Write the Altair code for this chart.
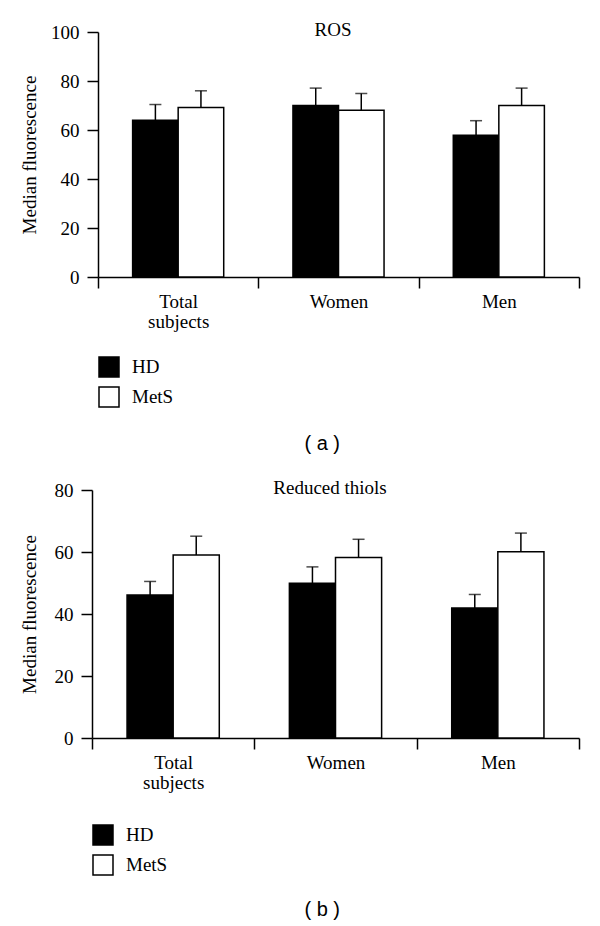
import altair as alt
import pandas as pd

categories = ["Total subjects", "Women", "Men"]
groups = ["HD", "MetS"]

# Panel (a) ROS
ros_hd = [64.0, 70.0, 57.9]
ros_hd_sem = [6.4, 7.1, 5.9]
ros_mets = [69.2, 68.1, 70.0]
ros_mets_sem = [6.8, 6.8, 7.1]
ros_ticks = [0, 20, 40, 60, 80, 100]

# Panel (b) Reduced thiols
thiol_hd = [46.1, 49.9, 41.9]
thiol_hd_sem = [4.4, 5.3, 4.4]
thiol_mets = [59.0, 58.2, 60.1]
thiol_mets_sem = [6.1, 5.9, 6.0]
thiol_ticks = [0, 20, 40, 60, 80]

SERIF = "Liberation Serif"
SANS = "Liberation Sans"


def table(hd, hd_sem, mets, mets_sem):
    rows = []
    for i, c in enumerate(categories):
        rows.append({"cat": c, "group": "HD", "value": hd[i], "sem": hd_sem[i]})
        rows.append({"cat": c, "group": "MetS", "value": mets[i], "sem": mets_sem[i]})
    return pd.DataFrame(rows)


def panel(df, title, caption, ticks, ymax, width, height, inset, title_x,
          caption_x, caption_y, legend_y, title_pad):
    x = alt.X(
        "cat:N", sort=categories,
        scale=alt.Scale(paddingInner=0, paddingOuter=0, range=[inset, width]),
        axis=alt.Axis(
            title=caption, titleFont=SANS, titleFontSize=20, titleFontWeight="normal",
            titleColor="black", titleX=caption_x, titleY=caption_y,
            titleBaseline="alphabetic", titleAlign="center", titleAngle=0,
            labelAngle=0, labelFont=SERIF, labelFontSize=19, labelColor="black",
            labelExpr="datum.label == 'Total subjects' ? ['Total', 'subjects'] : datum.label",
            labelLineHeight=20, labelBaseline="top", labelPadding=4,
            tickBand="extent", tickSize=11, tickWidth=1.5, tickColor="black",
            domainColor="black", domainWidth=1.5, grid=False,
        ),
    )
    xo = alt.XOffset("group:N", sort=groups,
                     scale=alt.Scale(paddingInner=0, paddingOuter=0.76))
    y = alt.Y(
        "value:Q", scale=alt.Scale(domain=[0, ymax], nice=False),
        axis=alt.Axis(
            values=ticks, title="Median fluorescence", titleFont=SERIF,
            titleFontSize=19, titleFontWeight="normal", titleColor="black",
            titlePadding=title_pad, offset=-inset,
            labelFont=SERIF, labelFontSize=19, labelColor="black", labelPadding=8,
            tickSize=11, tickWidth=1.5, tickColor="black",
            domainColor="black", domainWidth=1.5, grid=False,
        ),
    )
    bars = alt.Chart(df).mark_bar(stroke="black", strokeWidth=1.5).encode(
        x=x, xOffset=xo, y=y,
        fill=alt.Fill(
            "group:N", sort=groups,
            scale=alt.Scale(domain=groups, range=["black", "white"]),
            legend=alt.Legend(
                title=None, orient="none", legendX=inset, legendY=legend_y,
                direction="vertical", padding=0,
                symbolType="square", symbolSize=400,
                symbolStrokeColor="black", symbolStrokeWidth=1.5,
                labelFont=SERIF, labelFontSize=19, labelColor="black",
                labelOffset=12, rowPadding=4,
            ),
        ),
    )
    base = alt.Chart(df).transform_calculate(upper="datum.value + datum.sem")
    rule = base.mark_rule(color="black", strokeWidth=1.5).encode(
        x=x, xOffset=xo, y="value:Q", y2="upper:Q"
    )
    cap = base.mark_tick(color="black", thickness=1.5, size=12).encode(
        x=x, xOffset=xo, y="upper:Q"
    )
    ttl = alt.Chart(pd.DataFrame({"t": [title]})).mark_text(
        font=SERIF, fontSize=19, baseline="alphabetic", align="center", color="black"
    ).encode(text="t:N", x=alt.value(title_x), y=alt.value(4))
    return alt.layer(bars, rule, cap, ttl).properties(width=width, height=height)


pa = panel(table(ros_hd, ros_hd_sem, ros_mets, ros_mets_sem), "ROS", "( a )",
           ros_ticks, 100, 487, 245, 6, 241, 229.7, 172.7, 324, 11)
pb = panel(table(thiol_hd, thiol_hd_sem, thiol_mets, thiol_mets_sem), "Reduced thiols", "( b )",
           thiol_ticks, 80, 487, 248, 0, 238, 229.7, 177.3, 334, 15)

chart = (
    alt.concat(pa, pb, columns=1, spacing=25)
    .resolve_scale(x="independent", y="independent", xOffset="independent", fill="independent")
    .resolve_legend(fill="independent")
    .properties(padding={"left": 12, "top": 13, "right": 5, "bottom": 0}, background="white")
    .configure_view(stroke=None)
)

chart.save("out.html", embed_options={"renderer": "svg", "actions": False})
